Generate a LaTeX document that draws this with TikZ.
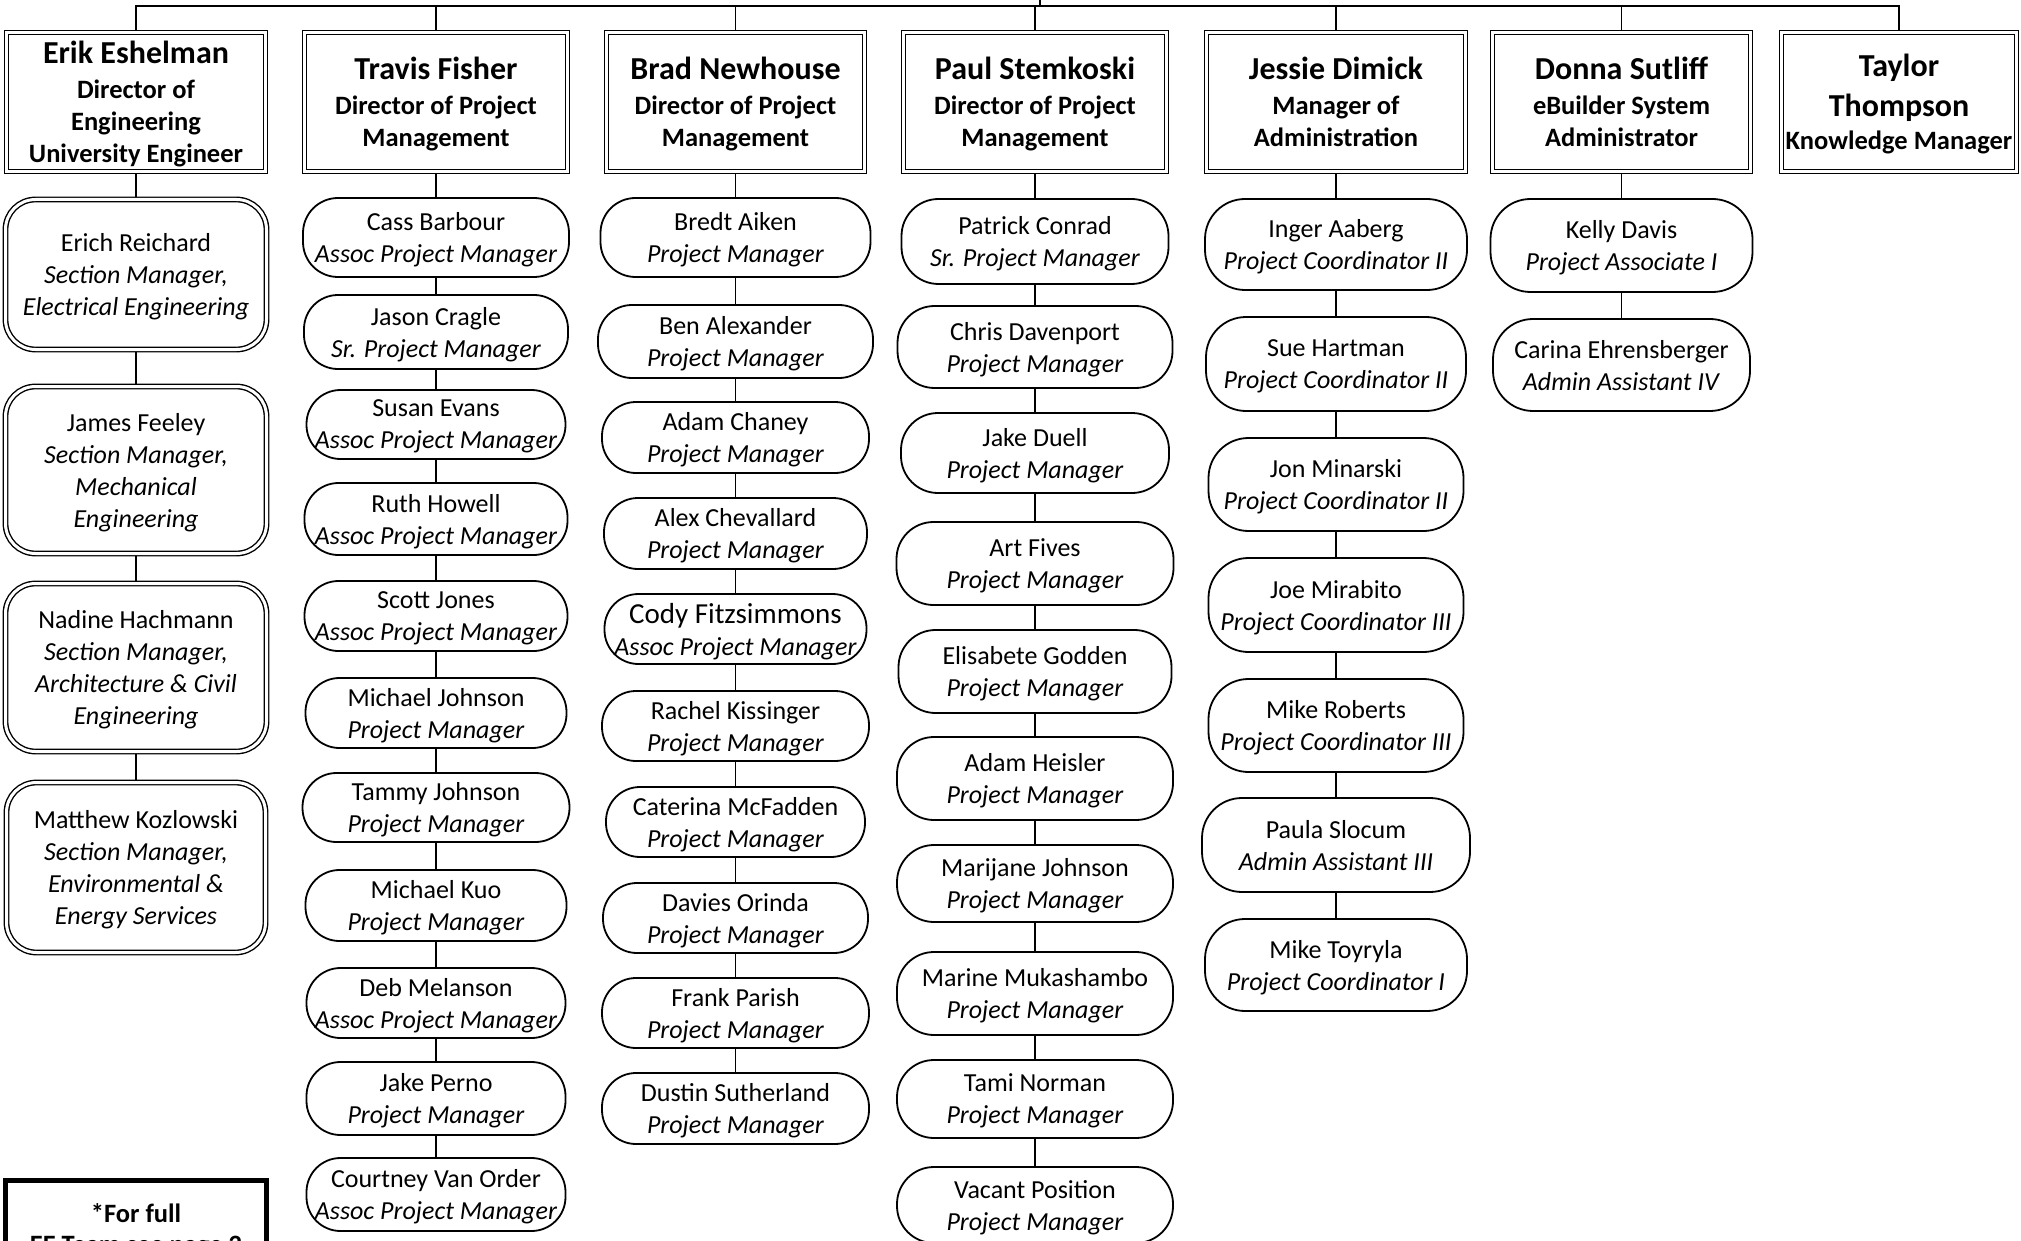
\documentclass[tikz,border=0pt]{standalone}
\usepackage{fontspec}
\setmainfont{Carlito}
\usetikzlibrary{backgrounds}
\newcommand\nmfont{\fontsize{32}{32}\selectfont}
\tikzset{
  base/.style={inner sep=0pt, outer sep=0pt, align=center, fill=white, text depth=0pt},
  topbox/.style={base, draw, double, double distance=3pt, line width=1.4pt, font=\fontsize{26.5}{32}\selectfont\bfseries},
  secbox/.style={base, draw, double, double distance=3pt, line width=1.4pt, rounded corners=30pt, font=\fontsize{26}{32}\selectfont},
  pill/.style={base, draw, line width=1.8pt, rounded corners=#1, font=\fontsize{26}{32}\selectfont},
  pill/.default=34pt,
  conn/.style={line width=1.8pt},
  notebox/.style={base, draw, line width=4.5pt, font=\fontsize{26.5}{31}\selectfont\bfseries},
}
\begin{document}
\begin{tikzpicture}[x=1pt,y=-1pt]
\useasboundingbox (0,0) rectangle (2021,1241);
% top-level boxes
\node[topbox, minimum width=259pt, minimum height=139pt] (erik) at (136,102) {{\nmfont Erik Eshelman}\\[3pt]Director of\\Engineering\\University Engineer};
\node[topbox, minimum width=263pt, minimum height=139pt] (travis) at (436,102) {{\nmfont Travis Fisher}\\[3pt]Director of Project\\Management};
\node[topbox, minimum width=258pt, minimum height=139pt] (brad) at (735.5,102) {{\nmfont Brad Newhouse}\\[3pt]Director of Project\\Management};
\node[topbox, minimum width=263pt, minimum height=139pt] (paul) at (1035,102) {{\nmfont Paul Stemkoski}\\[3pt]Director of Project\\Management};
\node[topbox, minimum width=259pt, minimum height=139pt] (jessie) at (1336,102) {{\nmfont Jessie Dimick}\\[3pt]Manager of\\Administration};
\node[topbox, minimum width=258pt, minimum height=139pt] (donna) at (1621.5,102) {{\nmfont Donna Sutliff}\\[3pt]eBuilder System\\Administrator};
\node[topbox, minimum width=235pt, minimum height=139pt] (taylor) at (1899,102) {{\nmfont Taylor}\\[8pt]{\nmfont Thompson}\\[1pt]Knowledge Manager};
% Erik column
\node[secbox, minimum width=261pt, minimum height=150pt] (erich) at (136,274.5) {Erich Reichard\\\textit{Section Manager,}\\\textit{Electrical Engineering}};
\node[secbox, minimum width=261pt, minimum height=167pt] (feeley) at (136,470) {James Feeley\\\textit{Section Manager,}\\\textit{Mechanical}\\\textit{Engineering}};
\node[secbox, minimum width=261pt, minimum height=168pt] (hachmann) at (136,667.5) {Nadine Hachmann\\\textit{Section Manager,}\\\textit{Architecture \& Civil}\\\textit{Engineering}};
\node[secbox, minimum width=259pt, minimum height=170pt] (kozlowski) at (136,867.5) {Matthew Kozlowski\\\textit{Section Manager,}\\\textit{Environmental \&}\\\textit{Energy Services}};
\node[notebox, minimum width=261pt, minimum height=96pt, anchor=north] (note) at (136,1180.5) {*For full\\EE Team see page 2};
% Travis column
\node[pill=35pt, minimum width=266pt, minimum height=79pt] (cass) at (436,237.5) {Cass Barbour\\\textit{Assoc Project Manager}};
\node[pill, minimum width=264pt, minimum height=74pt] (jason) at (436,332) {Jason Cragle\\\textit{Sr. Project Manager}};
\node[pill, minimum width=259pt, minimum height=69pt] (susan) at (436,424.5) {Susan Evans\\\textit{Assoc Project Manager}};
\node[pill, minimum width=263pt, minimum height=72pt] (ruth) at (436,519) {Ruth Howell\\\textit{Assoc Project Manager}};
\node[pill, minimum width=263pt, minimum height=70pt] (scott) at (436,616) {Scott Jones\\\textit{Assoc Project Manager}};
\node[pill, minimum width=261pt, minimum height=70pt] (mjohnson) at (436,713) {Michael Johnson\\\textit{Project Manager}};
\node[pill, minimum width=267pt, minimum height=69pt] (tammy) at (436,807.5) {Tammy Johnson\\\textit{Project Manager}};
\node[pill, minimum width=261pt, minimum height=71pt] (kuo) at (436,905.5) {Michael Kuo\\\textit{Project Manager}};
\node[pill, minimum width=259pt, minimum height=70pt] (deb) at (436,1003) {Deb Melanson\\\textit{Assoc Project Manager}};
\node[pill, minimum width=259pt, minimum height=73pt] (perno) at (436,1098.5) {Jake Perno\\\textit{Project Manager}};
\node[pill, minimum width=259pt, minimum height=73pt] (courtney) at (436,1194.5) {Courtney Van Order\\\textit{Assoc Project Manager}};
% Brad column
\node[pill=35pt, minimum width=270pt, minimum height=79pt] (bredt) at (735.5,237.5) {Bredt Aiken\\\textit{Project Manager}};
\node[pill, minimum width=275pt, minimum height=73pt] (ben) at (735.5,341.5) {Ben Alexander\\\textit{Project Manager}};
\node[pill, minimum width=267pt, minimum height=71pt] (chaney) at (735.5,437.5) {Adam Chaney\\\textit{Project Manager}};
\node[pill, minimum width=263pt, minimum height=71pt] (chevallard) at (735.5,533.5) {Alex Chevallard\\\textit{Project Manager}};
\node[pill, minimum width=262pt, minimum height=70pt] (cody) at (735.5,629) {{\fontsize{29}{32}\selectfont Cody Fitzsimmons}\\\textit{Assoc Project Manager}};
\node[pill, minimum width=267pt, minimum height=70pt] (rachel) at (735.5,726) {Rachel Kissinger\\\textit{Project Manager}};
\node[pill, minimum width=259pt, minimum height=70pt] (caterina) at (735.5,822) {Caterina McFadden\\\textit{Project Manager}};
\node[pill, minimum width=265pt, minimum height=70pt] (davies) at (735.5,918) {Davies Orinda\\\textit{Project Manager}};
\node[pill, minimum width=267pt, minimum height=70pt] (frank) at (735.5,1013) {Frank Parish\\\textit{Project Manager}};
\node[pill, minimum width=267pt, minimum height=71pt] (dustin) at (735.5,1108.5) {Dustin Sutherland\\\textit{Project Manager}};
% Paul column
\node[pill=37pt, minimum width=267pt, minimum height=85pt] (patrick) at (1035,241.5) {Patrick Conrad\\\textit{Sr. Project Manager}};
\node[pill=37pt, minimum width=275pt, minimum height=82pt] (chris) at (1035,347) {Chris Davenport\\\textit{Project Manager}};
\node[pill=37pt, minimum width=268pt, minimum height=80pt] (duell) at (1035,453) {Jake Duell\\\textit{Project Manager}};
\node[pill=37pt, minimum width=277pt, minimum height=83pt] (fives) at (1035,563.5) {Art Fives\\\textit{Project Manager}};
\node[pill=37pt, minimum width=273pt, minimum height=83pt] (godden) at (1035,671.5) {Elisabete Godden\\\textit{Project Manager}};
\node[pill=37pt, minimum width=276pt, minimum height=83pt] (heisler) at (1035,778.5) {Adam Heisler\\\textit{Project Manager}};
\node[pill=37pt, minimum width=276pt, minimum height=77pt] (marijane) at (1035,883.5) {Marijane Johnson\\\textit{Project Manager}};
\node[pill=37pt, minimum width=276pt, minimum height=83pt] (marine) at (1035,993.5) {Marine Mukashambo\\\textit{Project Manager}};
\node[pill=37pt, minimum width=276pt, minimum height=78pt] (tami) at (1035,1099) {Tami Norman\\\textit{Project Manager}};
\node[pill=37pt, minimum width=276pt, minimum height=76pt] (vacant) at (1035,1205) {Vacant Position\\\textit{Project Manager}};
% Jessie column
\node[pill=40pt, minimum width=262pt, minimum height=91pt] (inger) at (1336,244.5) {Inger Aaberg\\\textit{Project Coordinator II}};
\node[pill=40pt, minimum width=260pt, minimum height=94pt] (hartman) at (1336,364) {Sue Hartman\\\textit{Project Coordinator II}};
\node[pill=40pt, minimum width=255pt, minimum height=93pt] (minarski) at (1336,484.5) {Jon Minarski\\\textit{Project Coordinator II}};
\node[pill=40pt, minimum width=255pt, minimum height=94pt] (mirabito) at (1336,605) {Joe Mirabito\\\textit{Project Coordinator III}};
\node[pill=40pt, minimum width=255pt, minimum height=93pt] (roberts) at (1336,725.5) {Mike Roberts\\\textit{Project Coordinator III}};
\node[pill=40pt, minimum width=268pt, minimum height=94pt] (slocum) at (1336,845) {Paula Slocum\\\textit{Admin Assistant III}};
\node[pill=40pt, minimum width=262pt, minimum height=92pt] (toyryla) at (1336,965) {Mike Toyryla\\\textit{Project Coordinator I}};
% Donna column
\node[pill=40pt, minimum width=262pt, minimum height=93pt] (kelly) at (1621.5,245.5) {Kelly Davis\\\textit{Project Associate I}};
\node[pill=40pt, minimum width=257pt, minimum height=92pt] (carina) at (1621.5,365) {Carina Ehrensberger\\\textit{Admin Assistant IV}};
% connectors
\coordinate (bus) at (1040,6);
\coordinate (up) at (1040,-10);
\begin{scope}[on background layer]
\draw[conn] (up) -- (bus);
\foreach \t in {erik,travis,brad,paul,jessie,donna,taylor} \draw[conn] (bus) -| (\t.north);
\foreach \a/\b in {erik/erich,erich/feeley,feeley/hachmann,hachmann/kozlowski,
  travis/cass,cass/jason,jason/susan,susan/ruth,ruth/scott,scott/mjohnson,mjohnson/tammy,tammy/kuo,kuo/deb,deb/perno,perno/courtney,
  brad/bredt,bredt/ben,ben/chaney,chaney/chevallard,chevallard/cody,cody/rachel,rachel/caterina,caterina/davies,davies/frank,frank/dustin,
  paul/patrick,patrick/chris,chris/duell,duell/fives,fives/godden,godden/heisler,heisler/marijane,marijane/marine,marine/tami,tami/vacant,
  jessie/inger,inger/hartman,hartman/minarski,minarski/mirabito,mirabito/roberts,roberts/slocum,slocum/toyryla,
  donna/kelly,kelly/carina}
  \draw[conn] (\a.south) -- (\b.north);
\end{scope}
\end{tikzpicture}
\end{document}
